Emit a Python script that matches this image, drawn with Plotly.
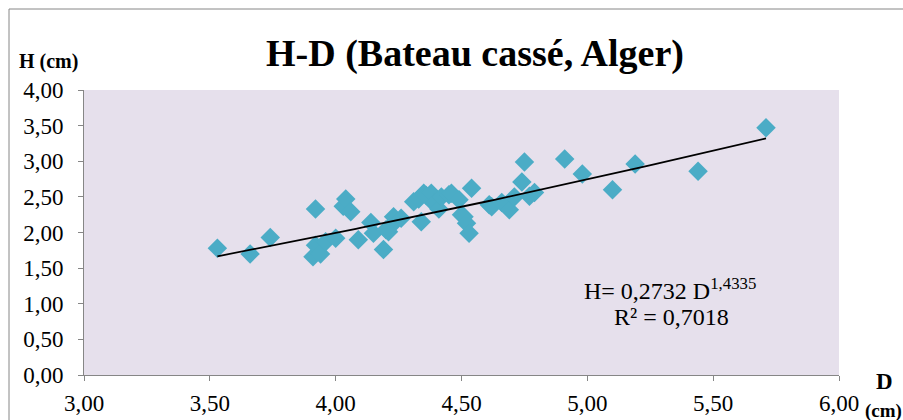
import numpy as np
import plotly.graph_objects as go

D = [3.53, 3.66, 3.74, 3.91, 3.92, 3.92, 3.94, 3.96, 4.00, 4.03, 4.04, 4.06, 4.09,
     4.14, 4.15, 4.19, 4.21, 4.23, 4.23, 4.26, 4.31, 4.33, 4.35, 4.34, 4.36, 4.38,
     4.39, 4.41, 4.42, 4.45, 4.46, 4.49, 4.50, 4.51, 4.52, 4.53, 4.54, 4.61, 4.62,
     4.66, 4.69, 4.71, 4.74, 4.75, 4.77, 4.79, 4.91, 4.98, 5.10, 5.19, 5.44, 5.71, 4.20]
H = [1.78, 1.70, 1.93, 1.66, 2.33, 1.82, 1.70, 1.87, 1.92, 2.37, 2.47, 2.29, 1.90,
     2.14, 1.99, 1.76, 2.01, 2.13, 2.22, 2.20, 2.43, 2.47, 2.55, 2.15, 2.52, 2.55,
     2.41, 2.33, 2.50, 2.53, 2.55, 2.46, 2.25, 2.22, 2.13, 1.99, 2.62, 2.39, 2.36,
     2.42, 2.32, 2.50, 2.71, 2.99, 2.51, 2.56, 3.03, 2.82, 2.60, 2.96, 2.86, 3.47, 2.04]

coef_a = 0.2732
coef_b = 1.4335
x_ticks = [3.0, 3.5, 4.0, 4.5, 5.0, 5.5, 6.0]
y_ticks = [0.0, 0.5, 1.0, 1.5, 2.0, 2.5, 3.0, 3.5, 4.0]

xt = np.linspace(min(D), max(D), 100)
yt = coef_a * xt ** coef_b

fig = go.Figure()
fig.add_trace(go.Scatter(x=D, y=H, mode="markers",
                         marker=dict(symbol="diamond", size=15, color="#4BACC6",
                                     line=dict(width=0)),
                         showlegend=False))
fig.add_trace(go.Scatter(x=xt, y=yt, mode="lines",
                         line=dict(color="black", width=1.8), showlegend=False))

serif = "Liberation Serif, Times New Roman, serif"
axis_common = dict(showline=True, linecolor="#868686", linewidth=1, ticks="outside",
                   ticklen=5, tickcolor="#868686", showgrid=False, zeroline=False,
                   automargin=False,
                   tickformat=".2f", tickfont=dict(family=serif, size=23, color="black"))

L, R, T, B = 84, 839, 90, 375
PW, PH = R - L, B - T


def px(x):
    return (x - L) / PW


def py(y):
    return (B - y) / PH


fig.update_layout(
    width=903, height=420,
    margin=dict(l=L, r=903 - R, t=T, b=420 - B, autoexpand=False),
    paper_bgcolor="white", plot_bgcolor="#E6E0EC",
    separators=", ",
    xaxis=dict(range=[3, 6], tickvals=x_ticks, ticklabelstandoff=2, **axis_common),
    yaxis=dict(range=[0, 4], tickvals=y_ticks, ticklabelstandoff=10, **axis_common),
    title=dict(text="<b>H-D (Bateau cassé, Alger)</b>", x=475 / 903, xanchor="center",
               y=1 - 53 / 420, yanchor="middle",
               font=dict(family=serif, size=38, color="black")),
    font=dict(family=serif, color="black"),
)

fig.add_annotation(text="<b>H (cm)</b>", xref="paper", yref="paper",
                   x=px(17), y=py(62), xanchor="left", yanchor="middle",
                   showarrow=False, font=dict(family=serif, size=20, color="black"))
fig.add_annotation(text="<b>D</b>", xref="paper", yref="paper",
                   x=px(884), y=py(381), xanchor="center", yanchor="middle",
                   showarrow=False, font=dict(family=serif, size=23, color="black"))
fig.add_annotation(text="<b>(cm)</b>", xref="paper", yref="paper",
                   x=px(883), y=py(411), xanchor="center", yanchor="middle",
                   showarrow=False, font=dict(family=serif, size=19, color="black"))
fig.add_annotation(text="H= 0,2732 D<sup>1,4335</sup>", xref="paper", yref="paper",
                   x=px(670), y=py(289), xanchor="center", yanchor="middle",
                   showarrow=False, font=dict(family=serif, size=24, color="black"))
fig.add_annotation(text="R² = 0,7018", xref="paper", yref="paper",
                   x=px(671), y=py(317), xanchor="center", yanchor="middle",
                   showarrow=False, font=dict(family=serif, size=24, color="black"))

fig.add_shape(type="rect", xref="paper", yref="paper",
              x0=px(9), x1=px(930), y0=py(450), y1=py(9),
              line=dict(color="#868686", width=1), fillcolor="rgba(0,0,0,0)", layer="below")

fig.write_html("out.html", config={"displayModeBar": False},
               post_script="document.body.style.margin='0px';")
